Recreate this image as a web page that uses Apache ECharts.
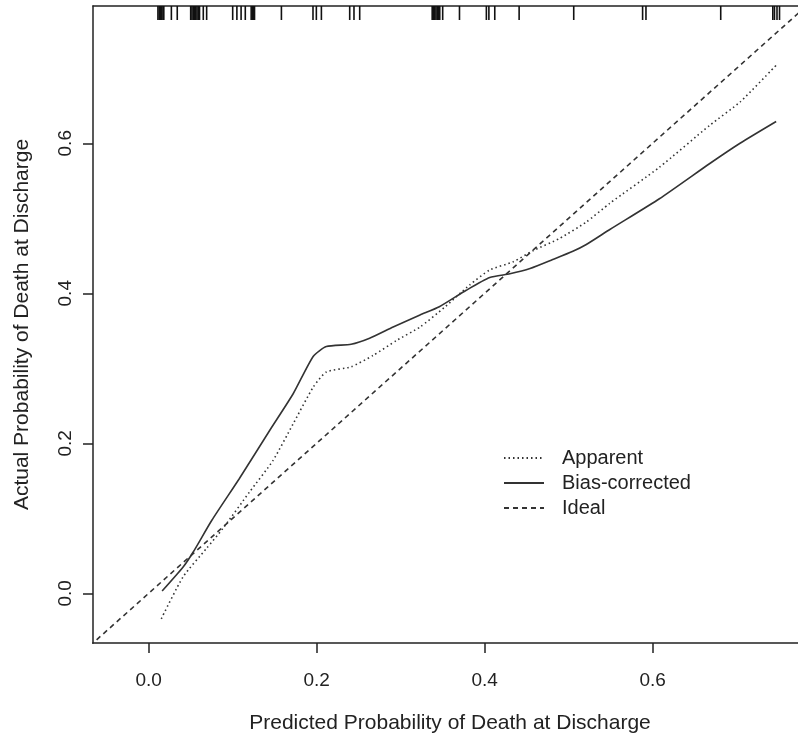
<!DOCTYPE html>
<html>
<head>
<meta charset="utf-8">
<title>Calibration plot</title>
<script src="https://cdn.jsdelivr.net/npm/echarts@6.0.0/dist/echarts.min.js"></script>
<style>
  html, body { margin: 0; padding: 0; background: #fff; overflow: hidden; }
  #chart { width: 798px; height: 739px; }
</style>
</head>
<body>
<div id="chart"></div>
<script>
// axis ticks
const tickValues = [0, 0.2, 0.4, 0.6];

// apparent calibration curve (dotted)
const apparentX = [0.015, 0.041, 0.069, 0.088, 0.120, 0.148, 0.172, 0.196, 0.2115, 0.241, 0.267, 0.295, 0.323, 0.352, 0.382, 0.406, 0.434, 0.458, 0.489, 0.521, 0.549, 0.608, 0.668, 0.704, 0.747];
const apparentY = [-0.034, 0.022, 0.060, 0.086, 0.135, 0.177, 0.226, 0.275, 0.295, 0.302, 0.317, 0.337, 0.355, 0.381, 0.411, 0.431, 0.442, 0.457, 0.473, 0.495, 0.520, 0.568, 0.624, 0.655, 0.704];

// bias-corrected curve (solid)
const biasX = [0.016, 0.041, 0.053, 0.075, 0.108, 0.144, 0.172, 0.196, 0.2115, 0.241, 0.263, 0.291, 0.323, 0.346, 0.378, 0.406, 0.430, 0.454, 0.481, 0.505, 0.521, 0.549, 0.608, 0.668, 0.704, 0.747];
const biasY = [0.003, 0.035, 0.055, 0.097, 0.153, 0.217, 0.266, 0.316, 0.329, 0.332, 0.340, 0.355, 0.371, 0.382, 0.404, 0.421, 0.426, 0.433, 0.445, 0.456, 0.465, 0.485, 0.526, 0.573, 0.600, 0.629];

// ideal line
const idealX = [-0.07, 0.8];
const idealY = [-0.07, 0.8];

// rug of predicted probabilities (top of plot)
const rugX = [
  0.011, 0.0125, 0.014, 0.0155, 0.017, 0.018, 0.027, 0.034,
  0.050, 0.0515, 0.053, 0.0545, 0.056, 0.0575, 0.059, 0.0605, 0.065, 0.069,
  0.100, 0.105, 0.110, 0.115, 0.122, 0.1235, 0.125, 0.126, 0.158,
  0.1956, 0.1996, 0.2056, 0.2393, 0.2444, 0.2512,
  0.3375, 0.339, 0.3405, 0.342, 0.3435, 0.345, 0.3465, 0.350, 0.370,
  0.402, 0.405, 0.412, 0.441, 0.506, 0.588, 0.592, 0.681,
  0.743, 0.745, 0.748, 0.751
];

const fontFamily = '"Liberation Sans", Arial, sans-serif';
const ink = '#222';
const lineInk = '#333';

const zip = (xs, ys) => xs.map((x, i) => [x, ys[i]]);

const chart = echarts.init(document.getElementById('chart'), null, { renderer: 'canvas' });
chart.setOption({
  backgroundColor: '#fff',
  animation: false,
  textStyle: { fontFamily },
  grid: { left: 93, right: 0, top: 6, bottom: 96 },
  legend: {
    orient: 'vertical',
    left: 498, top: 443,
    itemWidth: 40, itemHeight: 14, itemGap: 5,
    itemStyle: { opacity: 0 },
    textStyle: { fontSize: 20, color: ink, fontFamily, padding: [0, 0, 0, 13] },
    data: ['Apparent', 'Bias-corrected', 'Ideal']
  },
  xAxis: [
    {
      type: 'value',
      min: -0.0663, max: 0.773,
      name: 'Predicted Probability of Death at Discharge',
      nameLocation: 'middle', nameGap: 70,
      nameTextStyle: { fontSize: 21, color: ink, padding: [0, 0, 0, 9] },
      axisLine: { show: true, onZero: false, lineStyle: { color: ink, width: 1.5 } },
      splitLine: { show: false },
      axisTick: { show: true, customValues: tickValues, length: 10, lineStyle: { color: ink, width: 1.5 } },
      axisLabel: {
        customValues: tickValues, margin: 28, fontSize: 19, color: ink,
        formatter: v => v.toFixed(1)
      }
    },
    {
      // top edge of the plot box only
      type: 'value', position: 'top',
      min: -0.0663, max: 0.773,
      axisLine: { show: true, onZero: false, lineStyle: { color: ink, width: 1.5 } },
      axisTick: { show: false }, axisLabel: { show: false }, splitLine: { show: false }
    }
  ],
  yAxis: {
    type: 'value',
    min: -0.0663, max: 0.783,
    name: 'Actual Probability of Death at Discharge',
    nameLocation: 'middle', nameGap: 60,
    nameTextStyle: { fontSize: 21, color: ink },
    axisLine: { show: true, onZero: false, lineStyle: { color: ink, width: 1.5 } },
    splitLine: { show: false },
    axisTick: { show: true, customValues: tickValues, length: 10, lineStyle: { color: ink, width: 1.5 } },
    axisLabel: {
      customValues: tickValues, margin: 18, fontSize: 19, color: ink, rotate: 90,
      formatter: v => v.toFixed(1)
    }
  },
  series: [
    {
      name: 'Apparent',
      type: 'line',
      data: zip(apparentX, apparentY),
      symbol: 'none', smooth: 0.2,
      lineStyle: { color: lineInk, width: 1.6, type: [1.5, 3] },
      itemStyle: { color: lineInk }
    },
    {
      name: 'Bias-corrected',
      type: 'line',
      data: zip(biasX, biasY),
      symbol: 'none', smooth: 0.2,
      lineStyle: { color: lineInk, width: 1.6, type: 'solid' },
      itemStyle: { color: lineInk }
    },
    {
      name: 'Ideal',
      type: 'line',
      data: zip(idealX, idealY),
      symbol: 'none',
      lineStyle: { color: lineInk, width: 1.6, type: [5, 4] },
      itemStyle: { color: lineInk }
    },
    {
      name: 'rug',
      type: 'custom',
      data: rugX.map(v => [v]),
      encode: { x: 0 },
      silent: true,
      renderItem: (params, api) => {
        const p = api.coord([api.value(0), 0]);
        const top = params.coordSys.y;
        return {
          type: 'line',
          shape: { x1: p[0], y1: top, x2: p[0], y2: top + 14 },
          style: { stroke: '#111', lineWidth: 1.6 }
        };
      }
    }
  ]
});
window.addEventListener('resize', () => chart.resize());
</script>
</body>
</html>
